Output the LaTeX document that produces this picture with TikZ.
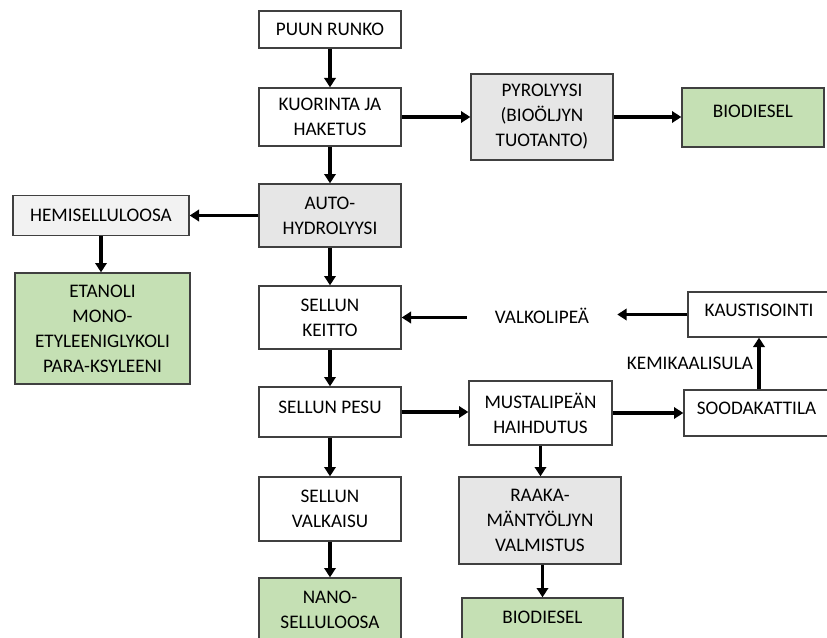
\documentclass[tikz,border=0pt]{standalone}
\usepackage{fontspec}
\setmainfont{Carlito}
\usepackage{tikz}
\usetikzlibrary{arrows.meta}
\definecolor{vihrea}{RGB}{197,224,180}
\definecolor{harmaa}{RGB}{230,230,230}
\definecolor{vaalea}{RGB}{242,242,242}
\definecolor{reuna}{RGB}{64,64,64}

\begin{document}
\begin{tikzpicture}[x=0.75pt,y=-0.75pt,
  font=\fontsize{14.4pt}{18.7pt}\selectfont,
  box/.style={draw=reuna,line width=1pt,align=center,inner sep=2pt},
  koko/.style 2 args={minimum width=#1*0.75pt,minimum height=#2*0.75pt},
  ylos/.style={text depth=#1},
  nuoli/.style={line width=2.4pt,-{Triangle[length=7pt,width=8.5pt]}}]
\useasboundingbox (0,0) rectangle (827,638);
% paalinja
\node[box,koko={142}{37}] (runko) at (330,29.5) {PUUN RUNKO};
\node[box,koko={142}{58}] (kuor) at (330,117) {KUORINTA JA\\HAKETUS};
\node[box,koko={142}{63},fill=harmaa] (auto) at (330,215.5) {AUTO-\\HYDROLYYSI};
\node[box,koko={142}{63}] (keitto) at (330,317.5) {SELLUN\\KEITTO};
\node[box,koko={142}{50},ylos=7.5pt] (pesu) at (330,412) {SELLUN PESU};
\node[box,koko={142}{64}] (valk) at (330,509) {SELLUN\\VALKAISU};
\node[box,koko={142}{64},fill=vihrea] (nano) at (330,610) {NANO-\\SELLULOOSA};
% vasen haara
\node[box,koko={176}{40},fill=vaalea] (hemi) at (101,215.5) {HEMISELLULOOSA};
\node[box,koko={175}{111},fill=vihrea] (etan) at (102.5,328.5)
  {ETANOLI\\MONO-\\ETYLEENIGLYKOLI\\PARA-KSYLEENI};
% oikea haara
\node[box,koko={142}{86},fill=harmaa] (pyro) at (542,117) {PYROLYYSI\\(BIOÖLJYN\\TUOTANTO)};
\node[box,koko={142}{59},fill=vihrea,ylos=10pt] (bio1) at (753,117.5) {BIODIESEL};
\node[inner xsep=21pt] (valko) at (542,316) {VALKOLIPEÄ};
\node[box,koko={142}{45},ylos=7pt] (kaust) at (759,314.5) {KAUSTISOINTI};
\node[box,koko={145}{46},ylos=7.5pt] (sooda) at (756.5,413) {SOODAKATTILA};
\node[box,koko={143}{64}] (musta) at (540.5,413) {MUSTALIPEÄN\\HAIHDUTUS};
\node[box,koko={162}{87},fill=harmaa] (raaka) at (540,520.5) {RAAKA-\\MÄNTYÖLJYN\\VALMISTUS};
\node[box,koko={161}{62},fill=vihrea,ylos=18pt] (bio2) at (542.5,629) {BIODIESEL};

\draw[nuoli] (runko.south) -- (kuor.north);
\draw[nuoli] (kuor.south) -- (auto.north);
\draw[nuoli] (auto.south) -- (keitto.north);
\draw[nuoli] (keitto.south) -- (pesu.north);
\draw[nuoli] (pesu.south) -- (valk.north);
\draw[nuoli] (valk.south) -- (nano.north);
\draw[nuoli] (auto.west) -- (hemi.east);
\draw[nuoli] (hemi.south) -- (hemi.south |- etan.north);
\draw[nuoli] (kuor.east) -- (pyro.west);
\draw[nuoli] (pyro.east) -- (pyro.east -| bio1.west);
\draw[nuoli] (kaust.west) -- (kaust.west -| valko.east);
\draw[nuoli] (valko.west |- keitto.east) -- (keitto.east);
\draw[nuoli] (kaust.south |- sooda.north) -- (kaust.south)
  node[midway,left] (kem) {KEMIKAALISULA};
\draw[nuoli] (pesu.east) -- (pesu.east -| musta.west);
\draw[nuoli] (musta.east) -- (sooda.west);
\draw[nuoli] (musta.south) -- (musta.south |- raaka.north);
\draw[nuoli] (bio2.north |- raaka.south) -- (bio2.north);
\end{tikzpicture}
\end{document}
